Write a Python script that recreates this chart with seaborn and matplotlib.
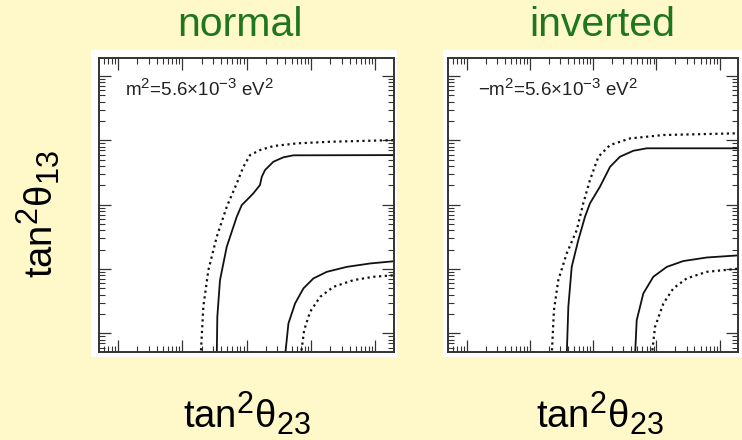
import numpy as np
import pandas as pd
import matplotlib
matplotlib.use("Agg")
import matplotlib.pyplot as plt
import matplotlib._mathtext as _mt
import seaborn as sns
from matplotlib.patches import Rectangle
from matplotlib.ticker import LogLocator, NullFormatter

# ---------------- data ----------------
panel_titles = ["normal", "inverted"]
panel_notes = ["m$^2$=5.6×10$^{-3}$ eV$^2$", "−m$^2$=5.6×10$^{-3}$ eV$^2$"]
x_label = "tan$^2$θ$_{23}$"
y_label = "tan$^2$θ$_{13}$"

# normal hierarchy
normal_upper_solid_x = [0.343, 0.350, 0.385, 0.490, 0.701, 0.839, 1.005, 1.27, 1.61, 1.72, 1.93, 2.60, 3.72, 5.32, 210]
normal_upper_solid_y = [0.00442, 0.0181, 0.0671, 0.221, 0.649, 0.986, 1.18, 1.50, 2.02, 2.72, 3.45, 4.65, 5.45, 5.85, 5.90]
normal_upper_dotted_x = [0.193, 0.212, 0.254, 0.343, 0.490, 0.701, 0.889, 1.13, 1.61, 2.60, 6.01, 19.8, 210]
normal_upper_dotted_y = [0.00442, 0.0258, 0.0962, 0.317, 0.927, 2.14, 3.88, 5.90, 7.06, 8.15, 8.97, 9.51, 10.1]
normal_lower_solid_x = [3.95, 4.46, 5.66, 7.62, 10.9, 17.6, 36.1, 83.0, 210]
normal_lower_solid_y = [0.00442, 0.01426, 0.0292, 0.0499, 0.0714, 0.0904, 0.108, 0.122, 0.133]
normal_lower_dotted_x = [6.93, 7.82, 9.68, 13.9, 22.3, 45.6, 93.3, 210]
normal_lower_dotted_y = [0.00442, 0.0112, 0.0216, 0.0370, 0.0528, 0.0671, 0.0757, 0.0804]

# inverted hierarchy
inverted_upper_solid_x = [0.382, 0.405, 0.458, 0.582, 0.743, 0.891, 1.28, 1.85, 2.65, 4.32, 7.03, 217]
inverted_upper_solid_y = [0.00442, 0.0258, 0.108, 0.281, 0.649, 1.05, 1.90, 3.88, 5.56, 6.89, 7.52, 7.52]
inverted_upper_dotted_x = [0.221, 0.240, 0.281, 0.382, 0.550, 0.698, 0.891, 1.21, 1.85, 3.82, 12.9, 217]
inverted_upper_dotted_y = [0.00442, 0.0230, 0.0671, 0.175, 0.403, 1.05, 2.42, 5.56, 8.45, 10.7, 12.1, 12.9]
inverted_lower_solid_x = [4.59, 4.88, 6.21, 8.93, 14.6, 26.6, 62.4, 217]
inverted_lower_solid_y = [0.00442, 0.0160, 0.0417, 0.0757, 0.108, 0.133, 0.151, 0.164]
inverted_lower_dotted_x = [8.43, 9.51, 12.9, 18.5, 30.1, 62.4, 217]
inverted_lower_dotted_y = [0.00442, 0.0126, 0.0292, 0.0499, 0.0714, 0.0904, 0.102]

x_limits = (10 ** -2.295, 10 ** 2.29)
y_limits = (10 ** -2.29, 10 ** 2.28)

# ---------------- tidy table ----------------
rows = []
def add(panel, name, style, xs, ys):
    for i, (a, b) in enumerate(zip(xs, ys)):
        rows.append(dict(panel=panel, curve=name, style=style, order=i, x=a, y=b))

add("normal", "upper_solid", "solid", normal_upper_solid_x, normal_upper_solid_y)
add("normal", "upper_dotted", "dotted", normal_upper_dotted_x, normal_upper_dotted_y)
add("normal", "lower_solid", "solid", normal_lower_solid_x, normal_lower_solid_y)
add("normal", "lower_dotted", "dotted", normal_lower_dotted_x, normal_lower_dotted_y)
add("inverted", "upper_solid", "solid", inverted_upper_solid_x, inverted_upper_solid_y)
add("inverted", "upper_dotted", "dotted", inverted_upper_dotted_x, inverted_upper_dotted_y)
add("inverted", "lower_solid", "solid", inverted_lower_solid_x, inverted_lower_solid_y)
add("inverted", "lower_dotted", "dotted", inverted_lower_dotted_x, inverted_lower_dotted_y)
df = pd.DataFrame(rows)

# ---------------- style ----------------
sns.set_style("ticks")
plt.rcParams["font.family"] = ["Liberation Sans", "DejaVu Sans"]
plt.rcParams["mathtext.default"] = "regular"
_mt.SHRINK_FACTOR = 0.8  # slightly larger super/subscripts, as in the reference

BG = "#FFF8C8"
GREEN = "#1E761E"
W, H = 742, 440

fig = plt.figure(figsize=(W / 100, H / 100), dpi=100, facecolor=BG)

# white boards behind each panel
for x0, x1 in [(91, 397), (443, 742)]:
    fig.patches.append(Rectangle((x0 / W, 1 - 357 / H), (x1 - x0) / W, 307 / H,
                                 transform=fig.transFigure, facecolor="white",
                                 edgecolor="none", zorder=-5))

axes_rects = [
    [99 / W, 1 - 352 / H, 295 / W, 294 / H],
    [448 / W, 1 - 352 / H, 290 / W, 294 / H],
]
note_x = [0.088, 0.103]
title_x = [240 / W, 602 / W]
xlabel_x = [247 / W, 600 / W]

for k, panel in enumerate(panel_titles):
    ax = fig.add_axes(axes_rects[k])
    ax.set_zorder(2)
    ax.set_facecolor("white")
    ax.set_xscale("log")
    ax.set_yscale("log")
    sub = df[df.panel == panel]
    for name, g in sub.groupby("curve", sort=False):
        g = g.sort_values("order")
        style = g["style"].iloc[0]
        if style == "solid":
            sns.lineplot(data=g, x="x", y="y", sort=False, estimator=None, ax=ax,
                         color="#111111", linewidth=1.3, linestyle="-")
        else:
            sns.lineplot(data=g, x="x", y="y", sort=False, estimator=None, ax=ax,
                         color="#111111", linewidth=1.6, linestyle=(0, (1.0, 1.6)))
    ax.set_xlim(*x_limits)
    ax.set_ylim(*y_limits)
    ax.set_xlabel("")
    ax.set_ylabel("")
    for axis in (ax.xaxis, ax.yaxis):
        axis.set_major_locator(LogLocator(base=10, numticks=20))
        axis.set_minor_locator(LogLocator(base=10, subs=np.arange(2, 10), numticks=100))
        axis.set_major_formatter(NullFormatter())
        axis.set_minor_formatter(NullFormatter())
    ax.tick_params(which="both", direction="in", top=True, right=True,
                   bottom=True, left=True, labelbottom=False, labelleft=False,
                   color="#333333")
    ax.tick_params(which="major", length=8.5, width=0.9)
    ax.tick_params(which="minor", length=4.5, width=0.8)
    for s in ax.spines.values():
        s.set_linewidth(1.4)
        s.set_color("#333333")
        s.set_visible(True)
    ax.text(note_x[k], 0.895, panel_notes[k], transform=ax.transAxes,
            ha="left", va="center", fontsize=13.5, color="#222222")

    fig.text(title_x[k], 1 - 36 / H, panel, ha="center", va="baseline",
             fontsize=29.5, color=GREEN)
    fig.text(xlabel_x[k], 1 - 413 / H, x_label, ha="center", va="center",
             fontsize=27.5, color="black")

fig.text(38 / W, 1 - 214 / H, y_label, rotation=90, ha="center", va="center",
         fontsize=27.5, color="black")

fig.savefig("out.png", dpi=100, facecolor=BG)
